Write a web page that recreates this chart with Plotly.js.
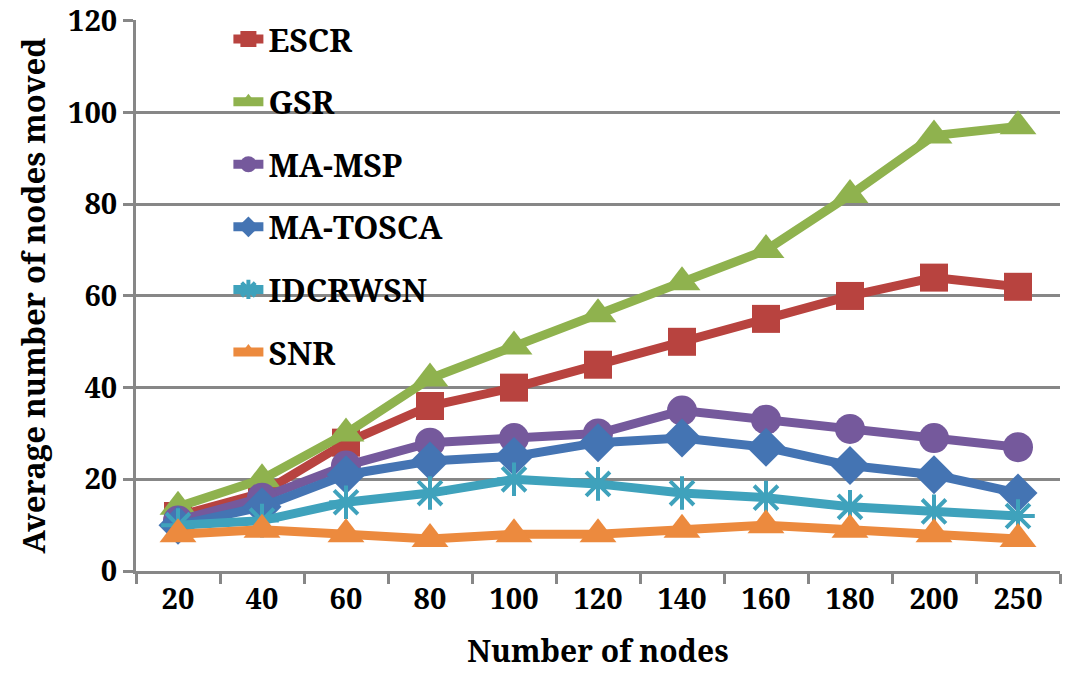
<!DOCTYPE html>
<html>
<head>
<meta charset="utf-8">
<script src="https://cdn.plot.ly/plotly-3.0.1.min.js"></script>
<style>
  html, body { margin: 0; padding: 0; background: #fff; }
  #chart { width: 1072px; height: 680px; }
</style>
</head>
<body>
<div id="chart"></div>
<script>
// number of nodes (categories on x)
var nodeCounts = ["20", "40", "60", "80", "100", "120", "140", "160", "180", "200", "250"];

var escr     = [12, 17, 28, 36, 40, 45, 50, 55, 60, 64, 62];
var gsr      = [14, 20, 30, 42, 49, 56, 63, 70, 82, 95, 97];
var maMsp    = [11, 16, 23, 28, 29, 30, 35, 33, 31, 29, 27];
var maTosca  = [10, 14, 21, 24, 25, 28, 29, 27, 23, 21, 17];
var idcrwsn  = [10, 11, 15, 17, 20, 19, 17, 16, 14, 13, 12];
var snr      = [8, 9, 8, 7, 8, 8, 9, 10, 9, 8, 7];

var yTicks = [0, 20, 40, 60, 80, 100, 120];

function series(name, vals, color, symbol, size) {
  var t = {
    x: nodeCounts,
    y: vals,
    name: "<b>" + name + "</b>",
    legendgroup: name,
    type: "scatter",
    mode: "lines+markers",
    line: {color: color, width: 9},
    marker: {symbol: symbol, size: size, color: color, line: {width: 0}}
  };
  if (symbol == "asterisk-open") {
    t.marker.line = {width: 4, color: color};
  }
  return t;
}

var data = [
  series("ESCR", escr, "#B8433F", "square", 28),
  series("GSR", gsr, "#8FB24E", "triangle-up", 32),
  series("MA-MSP", maMsp, "#75599C", "circle", 30),
  series("MA-TOSCA", maTosca, "#4474B3", "diamond", 30),
  series("IDCRWSN", idcrwsn, "#3FA2BC", "asterisk-open", 28),
  series("SNR", snr, "#EC8A3E", "triangle-up", 32)
];

// a single family name; a comma list fell back to sans here
var fontFam = "Noto Serif";
var gray = "#878787";

var layout = {
  width: 1072,
  height: 680,
  margin: {l: 136, r: 12, t: 18, b: 109},
  paper_bgcolor: "#ffffff",
  plot_bgcolor: "#ffffff",
  font: {family: fontFam, size: 28, color: "#000000"},
  showlegend: true,
  legend: {
    x: 0.1, y: 1.015, xanchor: "left", yanchor: "top",
    bgcolor: "rgba(0,0,0,0)",
    font: {family: fontFam, size: 32, color: "#000"},
    tracegroupgap: 18,
    maxheight: 1,
    itemsizing: "trace"
  },
  xaxis: {
    type: "category",
    range: [-0.5, 10.5],
    tickson: "boundaries",
    ticks: "outside",
    ticklen: 10,
    tickwidth: 3,
    tickcolor: gray,
    showline: true,
    linecolor: gray,
    linewidth: 3,
    showgrid: false,
    tickvals: nodeCounts,
    ticktext: nodeCounts.map(function(s) { return "<b>" + s + "</b>"; }),
    tickfont: {family: fontFam, size: 29, color: "#000"},
    title: {text: "<b>Number of nodes</b>", font: {family: fontFam, size: 30, color: "#000"}, standoff: 26}
  },
  yaxis: {
    range: [0, 120.2],
    tickvals: yTicks,
    ticktext: yTicks.map(function(v) { return "<b>" + v + "</b>"; }),
    ticks: "outside",
    ticklen: 10,
    tickwidth: 3,
    tickcolor: gray,
    showline: true,
    linecolor: gray,
    linewidth: 3,
    showgrid: true,
    gridcolor: gray,
    gridwidth: 3,
    zeroline: false,
    tickfont: {family: fontFam, size: 29, color: "#000"},
    title: {text: "<b>Average number of nodes moved</b>", font: {family: fontFam, size: 31, color: "#000"}, standoff: 14}
  }
};

Plotly.newPlot("chart", data, layout, {displayModeBar: false, staticPlot: true});
</script>
</body>
</html>
